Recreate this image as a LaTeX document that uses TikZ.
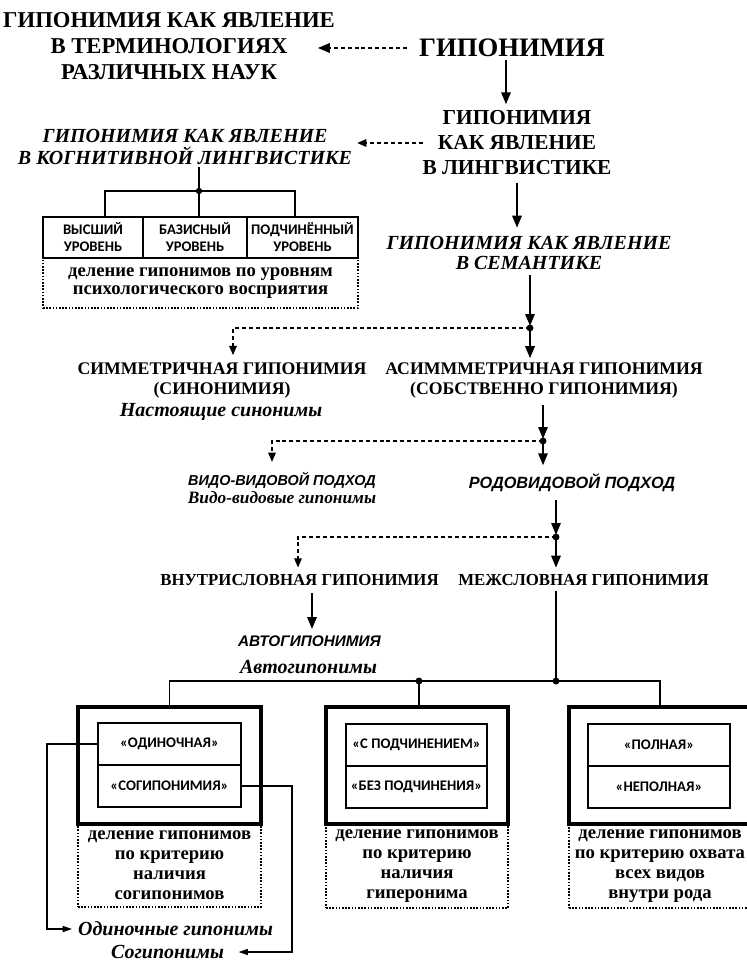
\documentclass[tikz,border=0pt]{standalone}
\usepackage{fontspec}
\setmainfont{Liberation Serif}
\setsansfont{Liberation Sans}
\newfontfamily\calib{Carlito}
\usetikzlibrary{arrows.meta}
\def\PX{0.75pt}
\begin{document}
\begin{tikzpicture}[x=0.75pt,y=-0.75pt,
  txt/.style={inner sep=0pt, outer sep=0pt, align=center},
  arr/.style={line width=1.5pt, -{Triangle[length=9pt,width=7pt]}},
  dar/.style={line width=1.5pt, dash pattern=on 3pt off 2.2pt, -{Triangle[length=7pt,width=5.5pt]}},
  ln/.style={line width=1.4pt},
  thinarr/.style={line width=1pt, -{Triangle[length=7pt,width=4.5pt]}},
  cell/.style={draw, line width=1.1pt, inner sep=0pt, align=center, font=\calib\bfseries\fontsize{11}{12.75}\selectfont},
  outerbox/.style={draw, line width=2.4pt, inner sep=0pt},
  dotbox/.style={draw, line width=1pt, dash pattern=on 1.2pt off 1.2pt, inner sep=0pt, align=center, font=\bfseries\fontsize{14}{15}\selectfont},
  upb/.style={txt, font=\bfseries\fontsize{#1}{#1}\selectfont},
  itb/.style={txt, font=\bfseries\itshape\fontsize{#1}{#1}\selectfont},
  sfi/.style={txt, font=\sffamily\bfseries\itshape\fontsize{#1}{#1}\selectfont}
]
\useasboundingbox (0,0) rectangle (746,962);
\fill[white] (0,0) rectangle (746,962);

% ---------- coordinates ----------
\coordinate (j1) at (530,328);
\coordinate (j2) at (543,441);
\coordinate (j3) at (556,537);
\coordinate (j4) at (556,681);
\coordinate (j5) at (419,681);
\coordinate (jt) at (199,191);
\coordinate (tl) at (105,191);
\coordinate (tr) at (295,191);
\coordinate (xs) at (233,0);
\coordinate (xv) at (272,0);
\coordinate (xi) at (298,0);
\coordinate (xa) at (312,0);
\coordinate (xh) at (506,0);
\coordinate (lx) at (47,0);
\coordinate (rx) at (292,0);

% ---------- texts ----------
\node[txt, font=\bfseries\fontsize{17}{19.5}\selectfont] (terms) at (169,46.5)
  {ГИПОНИМИЯ КАК ЯВЛЕНИЕ\\В ТЕРМИНОЛОГИЯХ\\РАЗЛИЧНЫХ НАУК};
\node[upb=20] (hypo) at (512,48) {ГИПОНИМИЯ};
\node[txt, font=\bfseries\fontsize{16}{18.75}\selectfont] (ling) at (517,143)
  {ГИПОНИМИЯ\\КАК ЯВЛЕНИЕ\\В ЛИНГВИСТИКЕ};
\node[txt, font=\bfseries\itshape\fontsize{15}{16.5}\selectfont] (cogn) at (185,147)
  {ГИПОНИМИЯ КАК ЯВЛЕНИЕ\\В КОГНИТИВНОЙ ЛИНГВИСТИКЕ};
\node[txt, font=\bfseries\itshape\fontsize{15}{15}\selectfont] (sem) at (529,253)
  {ГИПОНИМИЯ КАК ЯВЛЕНИЕ\\В СЕМАНТИКЕ};
\node[txt, font=\bfseries\fontsize{13.3}{15}\selectfont] (sym) at (222,381)
  {СИММЕТРИЧНАЯ ГИПОНИМИЯ\\(СИНОНИМИЯ)};
\node[itb=15] (symex) at (221,412) {Настоящие синонимы};
\node[txt, font=\bfseries\fontsize{13.3}{15}\selectfont] (asym) at (544,381)
  {АСИМММЕТРИЧНАЯ ГИПОНИМИЯ\\(СОБСТВЕННО ГИПОНИМИЯ)};
\node[sfi=10.8] (vv) at (282,480) {ВИДО-ВИДОВОЙ ПОДХОД};
\node[itb=13] (vvex) at (282,498) {Видо-видовые гипонимы};
\node[sfi=12.2] (rod) at (572,483) {РОДОВИДОВОЙ ПОДХОД};
\node[upb=12.6] (intra) at (299.5,580) {ВНУТРИСЛОВНАЯ ГИПОНИМИЯ};
\node[upb=12.6] (inter) at (583.5,580) {МЕЖСЛОВНАЯ ГИПОНИМИЯ};
\node[sfi=11.5] (auto) at (309.5,641) {АВТОГИПОНИМИЯ};
\node[itb=15] (autoex) at (308.5,667) {Автогипонимы};
\node[itb=15] (odin) at (175.5,929) {Одиночные гипонимы};
\node[itb=15] (sog) at (167.5,952) {Согипонимы};

% ---------- top-left table ----------
\node[dotbox, minimum width=315*\PX, minimum height=50*\PX, font=\bfseries\fontsize{14}{13.5}\selectfont] (psych) at (200.5,283)
  {деление гипонимов по уровням\\психологического восприятия};
\node[cell, minimum width=100*\PX, minimum height=41*\PX] (c1) at (93,237.5) {ВЫСШИЙ\\УРОВЕНЬ};
\node[cell, minimum width=104*\PX, minimum height=41*\PX] (c2) at (195,237.5) {БАЗИСНЫЙ\\УРОВЕНЬ};
\node[cell, minimum width=111*\PX, minimum height=41*\PX] (c3) at (302.5,237.5) {ПОДЧИНЁННЫЙ\\УРОВЕНЬ};

% ---------- bottom boxes ----------
\node[dotbox, minimum width=183*\PX, minimum height=83*\PX] (d1) at (169.5,865.5)
  {деление гипонимов\\по критерию\\наличия\\согипонимов};
\node[dotbox, minimum width=182*\PX, minimum height=84*\PX] (d2) at (417,866)
  {деление гипонимов\\по критерию\\наличия\\гиперонима};
\node[dotbox, minimum width=182*\PX, minimum height=84*\PX] (d3) at (660,866)
  {деление гипонимов\\по критерию охвата\\всех видов\\внутри рода};
\node[outerbox, minimum width=183*\PX, minimum height=117*\PX] (out1) at (169.5,765.5) {};
\node[outerbox, minimum width=182*\PX, minimum height=117*\PX] (out2) at (417,765.5) {};
\node[outerbox, minimum width=182*\PX, minimum height=117*\PX] (out3) at (660,765.5) {};
\node[cell, minimum width=143*\PX, minimum height=42*\PX] (in1a) at (169.5,744) {«ОДИНОЧНАЯ»};
\node[cell, minimum width=143*\PX, minimum height=42*\PX] (in1b) at (169.5,786) {«СОГИПОНИМИЯ»};
\node[cell, minimum width=141*\PX, minimum height=42*\PX] (in2a) at (416.5,745) {«С ПОДЧИНЕНИЕМ»};
\node[cell, minimum width=141*\PX, minimum height=42*\PX] (in2b) at (416.5,787) {«БЕЗ ПОДЧИНЕНИЯ»};
\node[cell, minimum width=142*\PX, minimum height=42*\PX] (in3a) at (659,745) {«ПОЛНАЯ»};
\node[cell, minimum width=142*\PX, minimum height=42*\PX] (in3b) at (659,787) {«НЕПОЛНАЯ»};

% ---------- connectors ----------
\draw[dar, -{Triangle[length=9pt,width=7pt]}] ([xshift=-9pt]hypo.west) -- ([xshift=-12.75pt]terms.east |- hypo.west);
\draw[arr, shorten <=2.6pt, shorten >=4.9pt] (hypo.south -| xh) -- (ling.north -| xh);
\draw[dar, shorten >=3.75pt] (ling.west) -- (cogn.east |- ling.west);
\draw[arr, shorten <=5.6pt, shorten >=6.4pt] (ling.south) -- (sem.north -| ling.south);

\draw[ln, shorten <=2pt] (cogn.south -| jt) -- (jt);
\draw[ln] (c1.north -| tl) -- (tl) -- (tr) -- (c3.north -| tr);
\draw[ln] (jt) -- (c2.north -| jt);
\fill (jt) circle (2.4pt);

\draw[arr, shorten <=4pt, shorten >=1.5pt] (sem.south -| j1) -- (j1);
\draw[arr, shorten >=3.75pt] (j1) -- (asym.north -| j1);
\draw[dar, shorten >=6pt] (j1) -- (j1 -| xs) -- (sym.north -| xs);
\fill (j1) circle (2.6pt);

\draw[arr, shorten <=4.5pt, shorten >=1.5pt] (asym.south -| j2) -- (j2);
\draw[arr, shorten >=6.5pt] (j2) -- (rod.north -| j2);
\draw[dar, shorten >=7.5pt] (j2) -- (j2 -| xv) -- (vv.north -| xv);
\fill (j2) circle (2.6pt);

\draw[arr, shorten <=6pt, shorten >=1.5pt] (rod.south -| j3) -- (j3);
\draw[arr, shorten >=5pt] (j3) -- (inter.north -| j3);
\draw[dar, shorten >=5pt] (j3) -- (j3 -| xi) -- (intra.north -| xi);
\fill (j3) circle (2.6pt);

\draw[arr, shorten <=5.6pt, shorten >=4.9pt] (intra.south -| xa) -- (auto.north -| xa);

\draw[ln, shorten <=4pt] (inter.south -| j4) -- (j4);
\draw[ln] (out1.north) |- (j4) -| (out3.north);
\draw[ln] (j5) -- (out2.north -| j5);
\fill (j4) circle (2.6pt);
\fill (j5) circle (2.6pt);

\draw[thinarr, shorten >=4.5pt] (in1a.west) -- (in1a.west -| lx) -- (lx |- odin.west) -- (odin.west);
\draw[thinarr, shorten >=11pt] (in1b.east) -- (in1b.east -| rx) -- (rx |- sog.east) -- (sog.east);
\end{tikzpicture}
\end{document}
